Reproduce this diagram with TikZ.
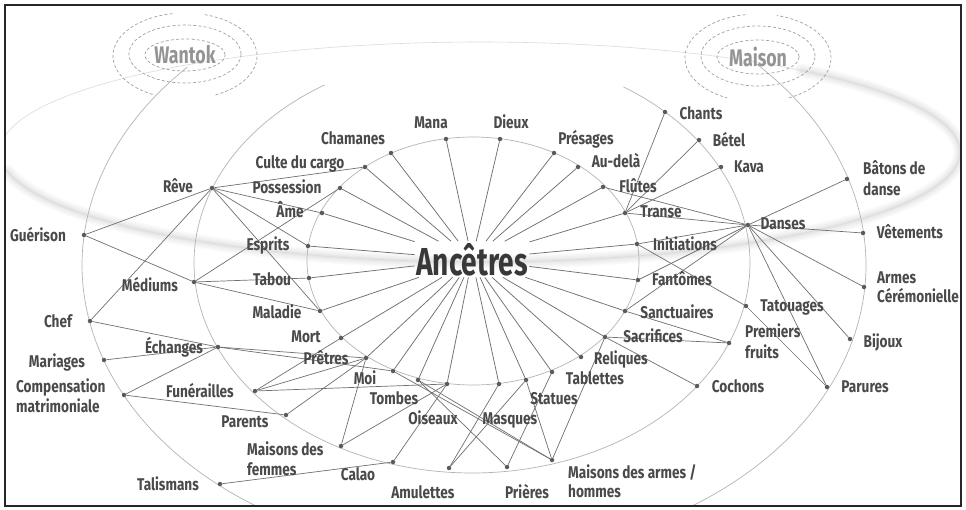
\documentclass[tikz,border=0pt]{standalone}
\usepackage{fontspec}
\setmainfont{Fira Sans}[FakeStretch=0.8]
\newfontfamily\ancfont{Fira Sans}[FakeStretch=0.72]
\newfontfamily\ringfont{Fira Sans}[FakeStretch=0.74]
\definecolor{labc}{HTML}{4A4A4A}
\definecolor{dotc}{HTML}{5A5A5A}
\definecolor{linec}{HTML}{707070}
\definecolor{orbc}{HTML}{B4B4B4}
\definecolor{ringc}{HTML}{A0A0A0}
\begin{document}
\begin{tikzpicture}[x=1pt,y=-1pt,
  dot/.style={circle,fill=dotc,inner sep=0pt,minimum size=4.5pt},
  lab/.style={font=\fontsize{17}{20}\selectfont\bfseries,text=labc,anchor=base,inner sep=0pt},
  labw/.style={lab,anchor=base west},
  spoke/.style={draw=linec,line width=0.75pt},
  edge/.style={draw=linec,line width=0.7pt},
  orbit/.style={draw=orbc,line width=0.7pt},
  ring/.style={draw=ringc,line width=0.7pt,dash pattern=on 3pt off 2.2pt},
  ringtext/.style={font=\ringfont\fontsize{24}{28}\selectfont\bfseries,text=black!42,inner sep=0pt},
  blur/.style={draw=black,draw opacity=0.018,line cap=round}]
\useasboundingbox (0,0) rectangle (966,509);
\fill[white] (0,0) rectangle (966,509);

% ---------- orbits ----------
\begin{scope}
\clip (5,5) rectangle (961,506);
% big blurred ellipse
\foreach \w in {14,11,8,5,3}
  \draw[blur,line width=\w pt] plot[domain=190:408,samples=160,smooth] ({480+480*cos(\x)},{152-110*sin(\x)});
\draw[line width=0.6pt,black!14] plot[domain=0:360,samples=200,smooth] ({480+480*cos(\x)},{152-110*sin(\x)});
% inner ellipse
\draw[orbit] plot[domain=0:360,samples=160,smooth] ({473+166*cos(\x)},{261-124*sin(\x)});
% middle ellipse arc
\draw[orbit] plot[domain=122:417,samples=180,smooth] ({472+278*cos(\x)},{263-210*sin(\x)});
% outer ellipse arc
\draw[orbit] plot[domain=137:404,samples=200,smooth] ({474+392*cos(\x)},{265-290*sin(\x)});
% rings
\draw[ring] plot[domain=0:360,samples=60,smooth] ({185+40*cos(\x)},{55-16*sin(\x)});
\draw[ring] plot[domain=0:360,samples=80,smooth] ({185+56*cos(\x)},{54-29*sin(\x)});
\draw[ring] plot[domain=100:245,samples=50,smooth] ({185+72*cos(\x)},{56-43*sin(\x)});
\draw[ring] plot[domain=-65:75,samples=50,smooth] ({185+72*cos(\x)},{56-43*sin(\x)});
\draw[ring] plot[domain=0:360,samples=60,smooth] ({758+41*cos(\x)},{57-17*sin(\x)});
\draw[ring] plot[domain=0:360,samples=80,smooth] ({758+57*cos(\x)},{56-30*sin(\x)});
\draw[ring] plot[domain=100:245,samples=50,smooth] ({758+73*cos(\x)},{58-44*sin(\x)});
\draw[ring] plot[domain=-65:75,samples=50,smooth] ({758+73*cos(\x)},{58-44*sin(\x)});
\end{scope}

% ---------- central node ----------
\node[font=\ancfont\fontsize{39}{44}\selectfont\bfseries,text=black!78,inner sep=1.5pt,anchor=base] (anc) at (472,275) {Ancêtres};

% ---------- dots ----------
\node[dot] (mana) at (446,139) {};
\node[dot] (dieux) at (500,139) {};
\node[dot] (chamanes) at (391,153) {};
\node[dot] (presages) at (554,153) {};
\node[dot] (audela) at (578,167) {};
\node[dot] (culte) at (365,167) {};
\node[dot] (possession) at (340,188) {};
\node[dot] (ame) at (322,213) {};
\node[dot] (esprits) at (308,246) {};
\node[dot] (tabou) at (309,278) {};
\node[dot] (maladie) at (320,311) {};
\node[dot] (mort) at (341,338) {};
\node[dot] (pretres) at (366,358) {};
\node[dot] (moi) at (393,371) {};
\node[dot] (tombes) at (418,380) {};
\node[dot] (oiseaux) at (447,384) {};
\node[dot] (masques) at (499,384) {};
\node[dot] (statues) at (526,380) {};
\node[dot] (tablettes) at (552,372) {};
\node[dot] (reliques) at (581,357) {};
\node[dot] (sacrifices) at (605,337) {};
\node[dot] (sanctuaires) at (625,311) {};
\node[dot] (fantomes) at (638,280) {};
\node[dot] (initiations) at (637,244) {};
\node[dot] (transe) at (625,213) {};
\node[dot] (flutes) at (603,187) {};
\node[dot] (reve) at (212,188) {};
\node[dot] (guerison) at (84,235) {};
\node[dot] (mediums) at (194,282) {};
\node[dot] (chef) at (90,321) {};
\node[dot] (echanges) at (218,347) {};
\node[dot] (mariages) at (104,360) {};
\node[dot] (compensation) at (124,395) {};
\node[dot] (funerailles) at (255,391) {};
\node[dot] (parents) at (286,415) {};
\node[dot] (mfemmes) at (341,446) {};
\node[dot] (talismans) at (220,484) {};
\node[dot] (calao) at (393,462) {};
\node[dot] (amulettes) at (449,468) {};
\node[dot] (prieres) at (507,467) {};
\node[dot] (mhommes) at (552,460) {};
\node[dot] (cochons) at (697,386) {};
\node[dot] (parures) at (827,387) {};
\node[dot] (bijoux) at (850,339) {};
\node[dot] (premiers) at (729,343) {};
\node[dot] (tatouages) at (746,306) {};
\node[dot] (danses) at (748,225) {};
\node[dot] (kava) at (721,167) {};
\node[dot] (betel) at (699,140) {};
\node[dot] (chants) at (665,112) {};
\node[dot] (batons) at (847,179) {};
\node[dot] (vetements) at (863,233) {};
\node[dot] (armes) at (864,287) {};

% ---------- spokes ----------
\foreach \n in {mana,dieux,chamanes,presages,audela,culte,possession,ame,esprits,tabou,maladie,mort,pretres,moi,tombes,oiseaux,masques,statues,tablettes,reliques,sacrifices,sanctuaires,fantomes,initiations,transe,flutes}
  \draw[spoke] (anc) -- (\n);

% ---------- other connectors ----------
\foreach \a/\b in {reve/culte,reve/ame,reve/esprits,reve/maladie,reve/guerison,reve/chef,
  guerison/mediums,mediums/possession,mediums/tabou,mediums/maladie,
  chef/echanges,mariages/echanges,compensation/echanges,compensation/parents,
  echanges/pretres,echanges/moi,funerailles/mort,funerailles/pretres,funerailles/oiseaux,
  parents/pretres,talismans/calao,mfemmes/pretres,mfemmes/oiseaux,calao/oiseaux,
  amulettes/masques,amulettes/statues,prieres/tombes,prieres/tablettes,
  mhommes/moi,mhommes/tombes,mhommes/statues,mhommes/sacrifices,
  chants/transe,betel/transe,kava/transe,flutes/danses,transe/danses,initiations/danses,
  fantomes/danses,sanctuaires/danses,initiations/tatouages,
  danses/batons,danses/vetements,danses/armes,danses/bijoux,danses/parures,
  tatouages/parures,sacrifices/premiers,sanctuaires/premiers,sacrifices/cochons}
  \draw[edge] (\a) -- (\b);

% ---------- labels ----------
\node[ringtext] (wantok) at (185,55) {Wantok};
\node[ringtext] (maison) at (758,57) {Maison};

\node[lab] (mana-l) at (431,128) {Mana};
\node[lab] (dieux-l) at (511,128) {Dieux};
\node[lab] (chamanes-l) at (353,144) {Chamanes};
\node[lab] (presages-l) at (586,144) {Présages};
\node[lab] (audela-l) at (616,167) {Au-delà};
\node[lab] (culte-l) at (300,168) {Culte du cargo};
\node[lab] (possession-l) at (287,193) {Possession};
\node[lab] (ame-l) at (290,217) {Âme};
\node[lab] (esprits-l) at (268,250) {Esprits};
\node[lab] (reve-l) at (178,192) {Rêve};
\node[lab] (guerison-l) at (38,241) {Guérison};
\node[lab] (mediums-l) at (150,291) {Médiums};
\node[lab] (tabou-l) at (272,285) {Tabou};
\node[lab] (maladie-l) at (277,318) {Maladie};
\node[lab] (mort-l) at (306,342) {Mort};
\node[lab] (pretres-l) at (326,364) {Prêtres};
\node[lab] (moi-l) at (365,384) {Moi};
\node[lab] (chef-l) at (58,327) {Chef};
\node[lab] (echanges-l) at (174,353) {Échanges};
\node[lab] (mariages-l) at (57,367) {Mariages};
\node[labw] (compensation-l1) at (16,392) {Compensation};
\node[labw] (compensation-l2) at (16,412) {matrimoniale};
\node[lab] (funerailles-l) at (200,397) {Funérailles};
\node[lab] (parents-l) at (245,427) {Parents};
\node[labw] (mfemmes-l1) at (247,455) {Maisons des};
\node[labw] (mfemmes-l2) at (247,475) {femmes};
\node[lab] (talismans-l) at (168,490) {Talismans};
\node[lab] (tombes-l) at (394,404) {Tombes};
\node[lab] (oiseaux-l) at (433,424) {Oiseaux};
\node[lab] (masques-l) at (510,424) {Masques};
\node[lab] (statues-l) at (554,404) {Statues};
\node[lab] (tablettes-l) at (595,384) {Tablettes};
\node[lab] (reliques-l) at (621,364) {Reliques};
\node[lab] (calao-l) at (358,480) {Calao};
\node[lab] (amulettes-l) at (423,498) {Amulettes};
\node[lab] (prieres-l) at (527,498) {Prières};
\node[labw] (mhommes-l1) at (568,478) {Maisons des armes /};
\node[labw] (mhommes-l2) at (568,497) {hommes};
\node[lab] (cochons-l) at (738,392) {Cochons};
\node[lab] (parures-l) at (865,392) {Parures};
\node[lab] (bijoux-l) at (883,347) {Bijoux};
\node[labw] (premiers-l1) at (745,337) {Premiers};
\node[labw] (premiers-l2) at (745,358) {fruits};
\node[lab] (tatouages-l) at (792,311) {Tatouages};
\node[lab] (sacrifices-l) at (653,342) {Sacrifices};
\node[lab] (sanctuaires-l) at (677,318) {Sanctuaires};
\node[lab] (fantomes-l) at (682,285) {Fantômes};
\node[lab] (initiations-l) at (685,250) {Initiations};
\node[lab] (danses-l) at (783,229) {Danses};
\node[lab] (transe-l) at (661,217) {Transe};
\node[lab] (flutes-l) at (638,192) {Flûtes};
\node[lab] (kava-l) at (749,172) {Kava};
\node[lab] (betel-l) at (729,146) {Bétel};
\node[lab] (chants-l) at (701,119) {Chants};
\node[labw] (batons-l1) at (863,174) {Bâtons de};
\node[labw] (batons-l2) at (863,195) {danse};
\node[lab] (vetements-l) at (910,238) {Vêtements};
\node[labw] (armes-l1) at (877,283) {Armes};
\node[labw] (armes-l2) at (877,302) {Cérémonielle};

% ---------- frame ----------
\draw[line width=2pt,black!85] (5,5) rectangle (961,506);
\end{tikzpicture}
\end{document}
